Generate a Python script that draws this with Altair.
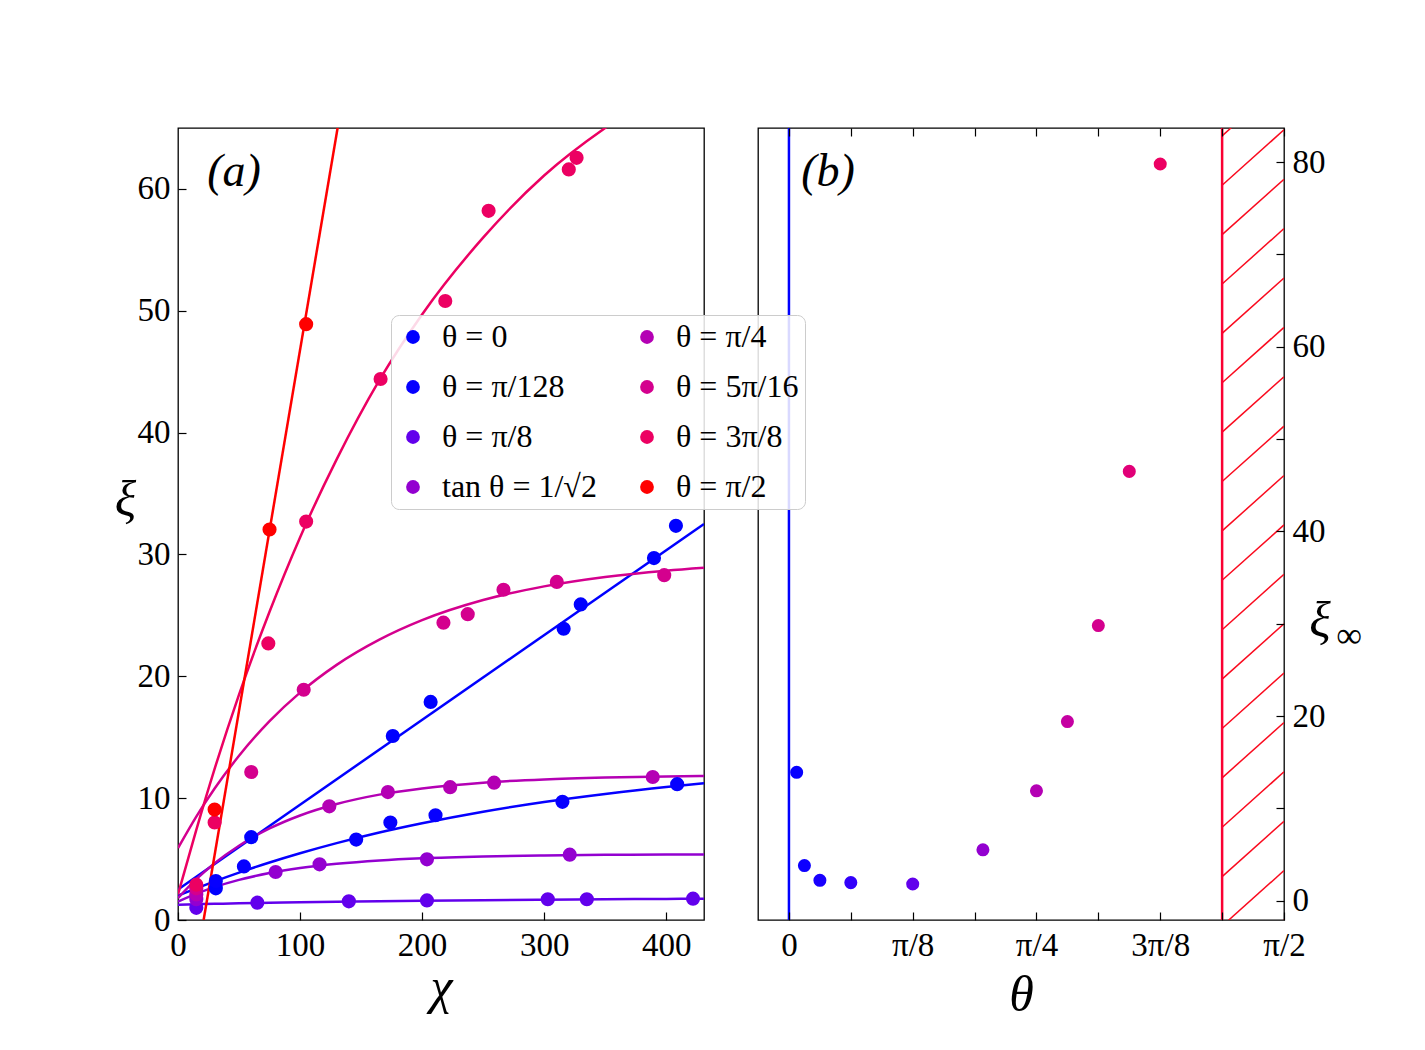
import altair as alt
import pandas as pd
import numpy as np

FONT = "Liberation Serif"

# ---------------- legend / series ----------------
series_labels = ["θ = 0", "θ = π/128", "θ = π/8", "tan θ = 1/√2",
                 "θ = π/4", "θ = 5π/16", "θ = 3π/8", "θ = π/2"]
series_colors = ["#0000ff", "#0600ff", "#6200ec", "#9300d0",
                 "#b400b4", "#d4008e", "#ec0062", "#ff0000"]

# ---------------- panel (a): measured points ----------------
chi_theta0 = [31, 60, 176, 207, 316, 330, 390, 408]
xi_theta0 = [2.6, 6.8, 15.1, 17.9, 23.9, 25.9, 29.7, 32.35]
chi_pi128 = [31, 54, 146, 174, 211, 315, 409]
xi_pi128 = [3.2, 4.4, 6.6, 8.0, 8.6, 9.7, 11.15]
chi_pi8 = [15, 65, 140, 204, 303, 335, 422]
xi_pi8 = [1.0, 1.42, 1.53, 1.61, 1.70, 1.70, 1.75]
chi_tan = [15, 80, 116, 204, 321]
xi_tan = [1.7, 3.94, 4.57, 4.98, 5.36]
chi_pi4 = [15, 124, 172, 223, 259, 389]
xi_pi4 = [2.1, 9.33, 10.5, 10.9, 11.27, 11.74]
chi_5pi16 = [15, 60, 103, 217.5, 237.4, 266.7, 310.4, 398.4]
xi_5pi16 = [2.6, 12.15, 18.9, 24.4, 25.1, 27.1, 27.75, 28.3]
chi_3pi8 = [15, 30, 74, 105, 166, 219, 254.5, 320.2, 326.6]
xi_3pi8 = [2.9, 8.0, 22.7, 32.7, 44.4, 50.8, 58.2, 61.6, 62.55]
chi_pi2 = [30, 75, 105]
xi_pi2 = [9.06, 32.05, 48.9]

# ---------------- panel (a): fitted curves ----------------
fit_chi = [0, 15, 30, 50, 75, 100, 130, 165, 200, 250, 300, 350, 400, 431]
fit_xi_pi128 = [2.0, 2.60, 3.17, 3.89, 4.72, 5.48, 6.31, 7.18, 7.94, 8.89, 9.69, 10.35, 10.92, 11.22]
fit_xi_pi8 = [1.26, 1.30, 1.33, 1.37, 1.41, 1.45, 1.49, 1.53, 1.57, 1.62, 1.66, 1.70, 1.73, 1.75]
fit_xi_tan = [1.5, 2.16, 2.70, 3.29, 3.85, 4.26, 4.61, 4.89, 5.07, 5.22, 5.30, 5.35, 5.37, 5.38]
fit_xi_pi4 = [1.8, 3.35, 4.66, 6.10, 7.51, 8.58, 9.52, 10.29, 10.8, 11.27, 11.54, 11.69, 11.78, 11.82]
fit_xi_5pi16 = [5.9, 8.49, 10.79, 13.48, 16.32, 18.66, 20.94, 23.01, 24.61, 26.26, 27.38, 28.15, 28.67, 28.91]
fit_xi_3pi8 = [2.1, 7.4, 12.4, 18.5, 25.3, 31.4, 37.8, 44.3, 49.7, 56.0, 61.1, 65.0, 68.1, 69.7]
line_chi_theta0 = [0, 431]
line_xi_theta0 = [2.5, 32.5]
line_chi_pi2 = [21, 135]
line_xi_pi2 = [0, 67.5]

# ---------------- panel (b) ----------------
theta_b = [0.0245, 0.0491, 0.0982, 0.1963, 0.3927, 0.6155, 0.7854, 0.8836, 0.9817, 1.0799, 1.1781]
xi_inf_b = [13.9, 3.8, 2.2, 1.95, 1.8, 5.5, 11.9, 19.4, 29.8, 46.5, 79.8]
colors_b = ["#0600ff", "#0d00ff", "#1900fe", "#3200fa", "#6200ec", "#9300d0",
            "#b400b4", "#c500a2", "#d4008e", "#e10078", "#ec0062"]
theta_ticks = [0, 0.19635, 0.3927, 0.58905, 0.7854, 0.98175, 1.1781, 1.37445, 1.5708]
theta_tick_labels = ["0", "", "π/8", "", "π/4", "", "3π/8", "", "π/2"]
boundary_theta = [0.0, 1.37445]
boundary_colors = ["#0000ff", "#fa0032"]
hatch_from = 1.37445
hatch_to = 1.5708
xi_inf_ticks = [0, 10, 20, 30, 40, 50, 60, 70, 80]

# ---------------- build tables ----------------
pt_sets = [(chi_theta0, xi_theta0), (chi_pi128, xi_pi128), (chi_pi8, xi_pi8),
           (chi_tan, xi_tan), (chi_pi4, xi_pi4), (chi_5pi16, xi_5pi16),
           (chi_3pi8, xi_3pi8), (chi_pi2, xi_pi2)]
rows = []
for lab, (cs, xs) in zip(series_labels, pt_sets):
    for c, x in zip(cs, xs):
        rows.append({"series": lab, "chi": c, "xi": x})
points_a = pd.DataFrame(rows)

fit_sets = [(line_chi_theta0, line_xi_theta0), (fit_chi, fit_xi_pi128), (fit_chi, fit_xi_pi8),
            (fit_chi, fit_xi_tan), (fit_chi, fit_xi_pi4), (fit_chi, fit_xi_5pi16),
            (fit_chi, fit_xi_3pi8), (line_chi_pi2, line_xi_pi2)]
rows = []
for lab, col, (cs, xs) in zip(series_labels, series_colors, fit_sets):
    for i, (c, x) in enumerate(zip(cs, xs)):
        rows.append({"series": lab, "color": col, "chi": c, "xi": x, "order": i})
lines_a = pd.DataFrame(rows)

W, H = 526, 792

x_scale_a = alt.Scale(domain=[0, 431], nice=False, zero=False)
y_scale_a = alt.Scale(domain=[0, 65], nice=False, zero=False)

x_axis_a = alt.Axis(values=[0, 100, 200, 300, 400], format="d", title="χ",
                    offset=-8, tickSize=8, labelPadding=9, titleFontSize=50,
                    titleFontStyle="italic", titleBaseline="middle", titleY=75,
                    zindex=1)
y_axis_a = alt.Axis(values=[0, 10, 20, 30, 40, 50, 60], format="d", title="ξ",
                    offset=-8, tickSize=8, labelPadding=8, titleFontSize=50,
                    titleFontStyle="italic", titleAngle=0, titleAlign="center",
                    titleBaseline="middle", titleX=-61, titleY=372, zindex=1)

lines_layer = alt.Chart(lines_a).mark_line(strokeWidth=2.5, clip=True, interpolate="monotone").encode(
    x=alt.X("chi:Q", scale=x_scale_a, axis=x_axis_a),
    y=alt.Y("xi:Q", scale=y_scale_a, axis=y_axis_a),
    color=alt.Color("color:N", scale=None),
    detail="series:N",
    order="order:Q",
)

points_layer = alt.Chart(points_a).mark_circle(size=200, opacity=1, clip=True).encode(
    x=alt.X("chi:Q", scale=x_scale_a, axis=x_axis_a),
    y=alt.Y("xi:Q", scale=y_scale_a, axis=y_axis_a),
    color=alt.Color("series:N", scale=alt.Scale(domain=series_labels, range=series_colors),
                    legend=alt.Legend(title=None, orient="none", legendX=213, legendY=187,
                                      columns=2, fillColor="rgba(255,255,255,0.85)",
                                      strokeColor="#cccccc", cornerRadius=8, padding=6,
                                      symbolType="circle", symbolSize=190,
                                      symbolStrokeWidth=0, labelFont=FONT,
                                      labelFontSize=32, labelLimit=400, rowPadding=18,
                                      columnPadding=34, labelOffset=13,
                                      labelColor="black")),
)

label_a = alt.Chart(pd.DataFrame({"t": ["(a)"]})).mark_text(
    font=FONT, fontSize=46, fontStyle="italic", align="center", baseline="middle"
).encode(x=alt.value(56), y=alt.value(44), text="t:N")

panel_a = alt.layer(lines_layer, points_layer, label_a).properties(width=W, height=H)

# ---------------- panel (b) ----------------
x_scale_b = alt.Scale(domain=[-0.0982, 1.5708], nice=False, zero=False)
y_scale_b = alt.Scale(domain=[-2.1, 83.7], nice=False, zero=False)

label_expr = "[" + ",".join("'%s'" % s for s in theta_tick_labels) + "][round(datum.value*16/PI)]"

y_axis_b = alt.Axis(orient="right", values=xi_inf_ticks, format="d",
                    labelExpr="datum.value % 20 == 0 ? datum.label : ''",
                    title=None, offset=-8, tickSize=8, labelPadding=8, zindex=1)

points_b = pd.DataFrame({"theta": theta_b, "xi": xi_inf_b, "color": colors_b})
bounds_b = pd.DataFrame({"theta": boundary_theta, "color": boundary_colors})

hatch_step = 5.35
hatch_rise = 6.0
hatch_starts = np.arange(-2.1 - hatch_rise, 83.7 + hatch_step, hatch_step)
hatch_df = pd.DataFrame({"x": hatch_from, "x2": hatch_to,
                         "y": hatch_starts, "y2": hatch_starts + hatch_rise})

hatch_layer = alt.Chart(hatch_df).mark_rule(color="#fa0a1e", strokeWidth=1.5, clip=True).encode(
    x=alt.X("x:Q", scale=x_scale_b, axis=None),
    x2="x2:Q",
    y=alt.Y("y:Q", scale=y_scale_b, axis=y_axis_b),
    y2="y2:Q",
)

bounds_layer = alt.Chart(bounds_b).mark_rule(strokeWidth=2.5, clip=True).encode(
    x=alt.X("theta:Q", scale=x_scale_b,
            axis=alt.Axis(orient="top", values=theta_ticks, labels=False, title=None,
                          offset=-8, tickSize=8, zindex=1)),
    color=alt.Color("color:N", scale=None),
)

pts_b_layer = alt.Chart(points_b).mark_circle(size=170, opacity=1, clip=True).encode(
    x=alt.X("theta:Q", scale=x_scale_b,
            axis=alt.Axis(orient="bottom", values=theta_ticks, labelExpr=label_expr,
                          title="θ", offset=-8, tickSize=8, labelPadding=9,
                          titleFontSize=50, titleFontStyle="italic",
                          titleBaseline="middle", titleY=83, zindex=1)),
    y=alt.Y("xi:Q", scale=y_scale_b, axis=y_axis_b),
    color=alt.Color("color:N", scale=None),
)

label_b = alt.Chart(pd.DataFrame({"t": ["(b)"]})).mark_text(
    font=FONT, fontSize=46, fontStyle="italic", align="center", baseline="middle"
).encode(x=alt.value(70), y=alt.value(44), text="t:N")

xi_lab = alt.Chart(pd.DataFrame({"t": ["ξ"]})).mark_text(
    font=FONT, fontSize=50, fontStyle="italic", align="center", baseline="middle"
).encode(x=alt.value(562), y=alt.value(494), text="t:N")

inf_lab = alt.Chart(pd.DataFrame({"t": ["∞"]})).mark_text(
    font=FONT, fontSize=36, align="center", baseline="middle"
).encode(x=alt.value(591), y=alt.value(508), text="t:N")

panel_b = alt.layer(hatch_layer, bounds_layer, pts_b_layer, label_b, xi_lab, inf_lab).resolve_axis(
    x="independent").properties(width=W, height=H)

chart = alt.hconcat(panel_a, panel_b, spacing=52).properties(
    padding={"left": 113, "top": 126, "right": 5, "bottom": 5},
    background="white",
).configure_view(stroke="black", strokeWidth=1.3).configure_axis(
    labelFont=FONT, labelFontSize=33, labelColor="black", titleFont=FONT,
    titleFontWeight="normal", titleColor="black", domain=False, grid=False,
    tickColor="black", tickWidth=1.2, labelFlush=False
)

chart.save("out.html", embed_options={"renderer": "svg", "actions": False})
